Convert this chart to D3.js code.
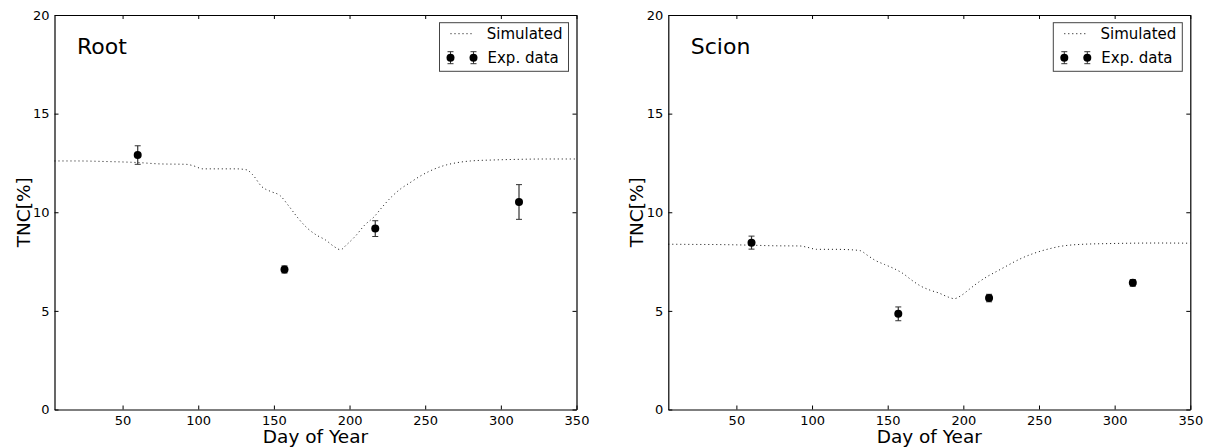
<!DOCTYPE html>
<html><head><meta charset="utf-8">
<script src="https://cdn.jsdelivr.net/npm/d3@7"></script>
<style>body{margin:0;background:#fff}svg{display:block;font-family:"DejaVu Sans",sans-serif}</style>
</head><body><svg id="c" width="1214" height="447"></svg>
<script>
const xTicks = [50,100,150,200,250,300,350];
const yTicks = [0,5,10,15,20];
const expDays = [60,157,217,312];
const rootExp = [12.9,7.1,9.17,10.52];
const rootErr = [0.47,0.18,0.4,0.88];
const scionExp = [8.46,4.85,5.65,6.42];
const scionErr = [0.33,0.35,0.19,0.17];
const simDays = [5,20,40,60,75,92,97,103,115,125,132,136,142,148,154,160,166,172,178,184,190,194,198,204,210,216,222,228,234,240,246,252,258,264,270,280,295,310,330,350];
const rootSim = [12.6,12.6,12.57,12.52,12.45,12.43,12.35,12.2,12.2,12.2,12.15,11.9,11.3,11.05,10.85,10.3,9.7,9.2,8.85,8.6,8.25,8.1,8.35,8.8,9.35,9.75,10.3,10.8,11.2,11.5,11.8,12.05,12.25,12.4,12.5,12.6,12.65,12.68,12.7,12.7];
const scionSim = [8.38,8.37,8.36,8.33,8.3,8.29,8.22,8.12,8.12,8.1,8.05,7.85,7.55,7.35,7.15,6.9,6.55,6.25,6.05,5.9,5.7,5.62,5.75,6.1,6.45,6.75,7.0,7.25,7.5,7.72,7.9,8.05,8.17,8.27,8.33,8.38,8.41,8.43,8.44,8.43];
const panels = [
  {title:"Root", left:54.5, exp:rootExp, err:rootErr, sim:rootSim},
  {title:"Scion", left:668.3, exp:scionExp, err:scionErr, sim:scionSim}
];
const W = 522, yTop = 15, yBot = 409.5;
const svg = d3.select("#c");
panels.forEach(p => {
  const g = svg.append("g").attr("transform", `translate(${p.left},0)`);
  const x = d3.scaleLinear().domain([5,350]).range([0,W]);
  const y = d3.scaleLinear().domain([0,20]).range([yBot,yTop]);
  const line = d3.line().x((d,i)=>x(simDays[i])).y(d=>y(d)).curve(d3.curveMonotoneX);
  g.append("path").datum(p.sim).attr("d",line).attr("fill","none")
    .attr("stroke","#111").attr("stroke-width",1).attr("stroke-dasharray","1,3");
  const eb = g.append("g");
  p.exp.forEach((v,i)=>{
    const cx = x(expDays[i]);
    eb.append("line").attr("x1",cx).attr("x2",cx).attr("y1",y(v-p.err[i])).attr("y2",y(v+p.err[i])).attr("stroke","#333").attr("stroke-width",1.2);
    [v-p.err[i],v+p.err[i]].forEach(e=>eb.append("line").attr("x1",cx-3).attr("x2",cx+3).attr("y1",y(e)).attr("y2",y(e)).attr("stroke","#333").attr("stroke-width",1));
    eb.append("circle").attr("cx",cx).attr("cy",y(v)).attr("r",4).attr("fill","#000");
  });
  const bx = g.append("g").attr("transform",`translate(0,${yBot})`)
    .call(d3.axisBottom(x).tickValues(xTicks).tickSizeInner(-4).tickSizeOuter(0).tickPadding(6));
  const tx = g.append("g").attr("transform",`translate(0,${yTop})`)
    .call(d3.axisTop(x).tickValues(xTicks).tickSizeInner(-4).tickSizeOuter(0).tickFormat(""));
  const ly = g.append("g").call(d3.axisLeft(y).tickValues(yTicks).tickSizeInner(-4).tickSizeOuter(0).tickPadding(5));
  const ry = g.append("g").attr("transform",`translate(${W},0)`)
    .call(d3.axisRight(y).tickValues(yTicks).tickSizeInner(-4).tickSizeOuter(0).tickFormat(""));
  [bx,tx,ly,ry].forEach(a=>{
    a.selectAll(".domain").attr("stroke","#000").attr("stroke-width",1.2);
    a.selectAll(".tick line").attr("stroke","#000");
    a.selectAll("text").attr("font-size",13).attr("fill","#000").attr("font-family","DejaVu Sans");
  });
  g.append("text").attr("x",22.5).attr("y",54).attr("font-size",22).text(p.title);
  g.append("text").attr("x",W/2).attr("y",443).attr("text-anchor","middle").attr("font-size",18.5).text("Day of Year");
  g.append("text").attr("transform",`translate(-25,${(yTop+yBot)/2}) rotate(-90)`).attr("text-anchor","middle").attr("font-size",18.5).text("TNC[%]");
  const lg = g.append("g").attr("transform",`translate(${W-137},${yTop+7.7})`);
  lg.append("rect").attr("width",129).attr("height",48.6).attr("fill","#fff").attr("stroke","#444").attr("stroke-width",1);
  lg.append("line").attr("x1",11).attr("x2",33).attr("y1",11).attr("y2",11).attr("stroke","#000").attr("stroke-dasharray","1,3").attr("stroke-width",1);
  lg.append("text").attr("x",123).attr("y",16.5).attr("text-anchor","end").attr("font-size",15).text("Simulated");
  [11,34].forEach(mx=>{
    lg.append("line").attr("x1",mx).attr("x2",mx).attr("y1",29).attr("y2",41).attr("stroke","#333");
    lg.append("line").attr("x1",mx-3).attr("x2",mx+3).attr("y1",29).attr("y2",29).attr("stroke","#333");
    lg.append("line").attr("x1",mx-3).attr("x2",mx+3).attr("y1",41).attr("y2",41).attr("stroke","#333");
    lg.append("circle").attr("cx",mx).attr("cy",35).attr("r",4).attr("fill","#000");
  });
  lg.append("text").attr("x",48).attr("y",40.5).attr("font-size",15).text("Exp. data");
});
</script></body></html>
